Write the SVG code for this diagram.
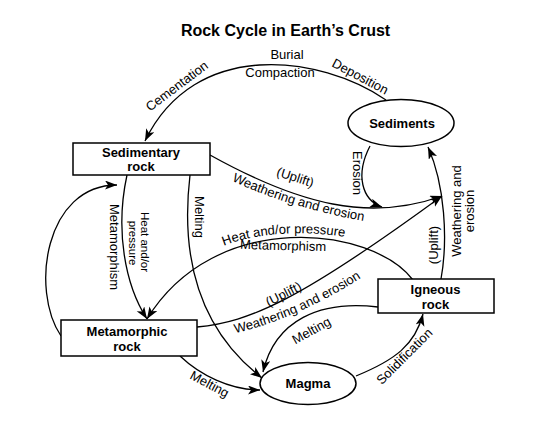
<svg xmlns="http://www.w3.org/2000/svg" width="552" height="423" viewBox="0 0 552 423">
<style>
  .node{fill:#fff;stroke:#000;stroke-width:1.5}
  .nl{font-family:"Liberation Sans",Arial,sans-serif;font-weight:bold;font-size:13px;fill:#000;text-anchor:middle}
  .lbl{font-family:"Liberation Sans",Arial,sans-serif;font-size:13px;fill:#000;text-anchor:middle}
  .sm{font-size:11.5px}
  .c{fill:none;stroke:#000;stroke-width:1.3}
  .title{font-family:"Liberation Sans",Arial,sans-serif;font-weight:bold;font-size:16px;fill:#000;text-anchor:middle}
</style>
<defs>
  <marker id="ah" markerUnits="userSpaceOnUse" markerWidth="13" markerHeight="10" refX="12" refY="4.5" orient="auto">
    <path d="M0,0 L12,4.5 L0,9 L3,4.5 Z" fill="#000"/>
  </marker>
  <path id="tp1" d="M226,178 C262,196 318,214 370,222"/>
  <path id="tp2" d="M219,248 C250,233 305,229 350,238"/>
  <path id="tp3" d="M232,334 C270,326 320,305 364,276"/>
</defs>
<rect width="552" height="423" fill="#fff"/>
<text class="title" x="285.5" y="36">Rock Cycle in Earth’s Crust</text>

<g id="connectors">
  <path class="c" marker-end="url(#ah)" d="M386,100 C320,55 195,38 145,141"/>
  <path class="c" marker-end="url(#ah)" d="M370,146 C355,175 362,200 382,207"/>
  <path class="c" marker-end="url(#ah)" d="M210,155 C300,205 370,222 442,196"/>
  <path class="c" marker-end="url(#ah)" d="M197,327 C250,322 300,300 442,196"/>
  <path class="c" marker-end="url(#ah)" d="M441,279 C448,240 445,185 428,147"/>
  <path class="c" marker-end="url(#ah)" d="M413,280 C372,226 215,208 147,319"/>
  <path class="c" marker-end="url(#ah)" d="M127,175 C115,230 125,285 147,319"/>
  <path class="c" marker-end="url(#ah)" d="M61,336 C30,290 45,185 117,185"/>
  <path class="c" marker-end="url(#ah)" d="M190,175 C180,260 200,330 262,378"/>
  <path class="c" marker-end="url(#ah)" d="M378,307 C320,300 275,320 263,372"/>
  <path class="c" marker-end="url(#ah)" d="M356,376 C395,360 415,345 423,314"/>
  <path class="c" marker-end="url(#ah)" d="M180,356 C200,375 230,390 260,390"/>

  <text class="lbl" x="287" y="59">Burial</text>
  <text class="lbl" x="280" y="77">Compaction</text>
  <text class="lbl" transform="translate(358.2,80.4) rotate(28)">Deposition</text>
  <text class="lbl" transform="translate(179.5,89.5) rotate(-37)">Cementation</text>
  <text class="lbl" transform="translate(353,173) rotate(90)">Erosion</text>
  <text class="lbl" transform="translate(294,181.5) rotate(18)">(Uplift)</text>
  <text class="lbl"><textPath href="#tp1" startOffset="50%">Weathering and erosion</textPath></text>
  <text class="lbl"><textPath href="#tp2" startOffset="50%">Heat and/or pressure</textPath></text>
  <text class="lbl" transform="translate(283,250) rotate(1.5)">Metamorphism</text>
  <text class="lbl" transform="translate(285.5,298) rotate(-27)">(Uplift)</text>
  <text class="lbl"><textPath href="#tp3" startOffset="50%">Weathering and erosion</textPath></text>
  <text class="lbl" transform="translate(438.4,245) rotate(-90)">(Uplift)</text>
  <text class="lbl" transform="translate(460.6,211) rotate(-90)">Weathering and</text>
  <text class="lbl" transform="translate(474.4,211) rotate(-90)">erosion</text>
  <text class="lbl" transform="translate(194.7,217) rotate(90)">Melting</text>
  <text class="lbl sm" transform="translate(140.5,242) rotate(90)">Heat and/or</text>
  <text class="lbl sm" transform="translate(129,243) rotate(90)">pressure</text>
  <text class="lbl" transform="translate(110,247) rotate(90)">Metamorphism</text>
  <text class="lbl" transform="translate(313.6,334.4) rotate(-29)">Melting</text>
  <text class="lbl" transform="translate(407.5,359.5) rotate(-45)">Solidification</text>
  <text class="lbl" transform="translate(207.5,388) rotate(28)">Melting</text>
</g>

<g id="sedimentary-rock">
  <rect class="node" x="73" y="143" width="137" height="32"/>
  <text class="nl" x="141" y="156.5">Sedimentary</text>
  <text class="nl" x="141" y="171">rock</text>
</g>
<g id="sediments">
  <ellipse class="node" cx="401" cy="123" rx="53" ry="23.5"/>
  <text class="nl" x="402" y="128">Sediments</text>
</g>
<g id="metamorphic-rock">
  <rect class="node" x="61" y="320" width="136" height="36"/>
  <text class="nl" x="127" y="336">Metamorphic</text>
  <text class="nl" x="127" y="350.5">rock</text>
</g>
<g id="igneous-rock">
  <rect class="node" x="378" y="279" width="116" height="34"/>
  <text class="nl" x="435.5" y="294">Igneous</text>
  <text class="nl" x="435.5" y="308.5">rock</text>
</g>
<g id="magma">
  <ellipse class="node" cx="308" cy="383.5" rx="48" ry="21"/>
  <text class="nl" x="308" y="388">Magma</text>
</g>
</svg>
